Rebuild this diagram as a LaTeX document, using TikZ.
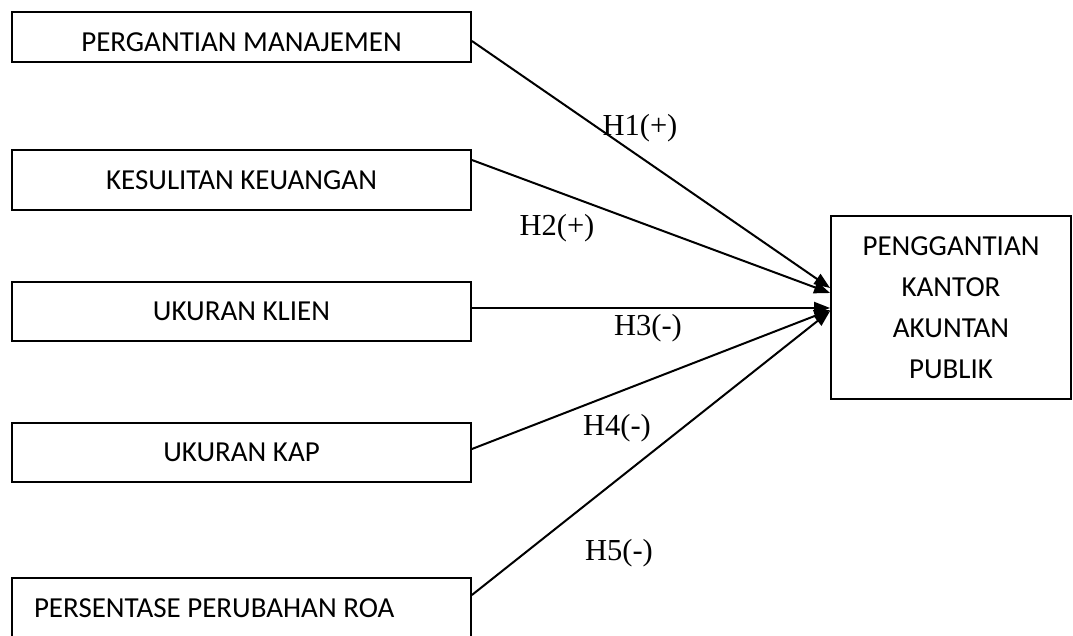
\documentclass[tikz,border=0pt]{standalone}
\usepackage{fontspec}
\setmainfont{Liberation Serif}
\newfontfamily\boxfont{Carlito}
\usetikzlibrary{arrows.meta}

\tikzset{
  varbox/.style={draw, line width=1.8pt, minimum width=459pt, inner sep=0pt,
    font=\boxfont\fontsize{29}{41}\selectfont},
  hyp/.style={font=\fontsize{30.5}{36}\selectfont, inner sep=0pt},
  link/.style={line width=2pt, -{Triangle[length=16pt,width=12pt]}}
}

\begin{document}
\begin{tikzpicture}[x=1pt,y=1pt,yscale=-1,xscale=1]
\useasboundingbox (0,0) rectangle (1073,635);

%Shape: Rectangle [id:mgt]
\node[varbox, minimum height=50pt] (b1) at (241.5,37) {\raisebox{-14pt}[0pt][0pt]{PERGANTIAN MANAJEMEN}};
%Shape: Rectangle [id:keu]
\node[varbox, minimum height=60pt] (b2) at (241.5,180) {KESULITAN KEUANGAN};
%Shape: Rectangle [id:klien]
\node[varbox, minimum height=59pt] (b3) at (241.5,311.5) {UKURAN KLIEN};
%Shape: Rectangle [id:kap]
\node[varbox, minimum height=59pt] (b4) at (241.5,452.5) {UKURAN KAP};
%Shape: Rectangle [id:roa]
\node[varbox, minimum height=60pt] (b5) at (241.5,608) {\makebox[415pt][l]{PERSENTASE PERUBAHAN ROA}};
%Shape: Rectangle [id:kantor]
\node[varbox, minimum width=240pt, minimum height=183pt, align=center] (tgt) at (951,307.5)
  {PENGGANTIAN\\KANTOR\\AKUNTAN\\PUBLIK};

%Straight Lines [id:h1..h5]
\coordinate (s1) at (b1.east |- 0,41);
\coordinate (s2) at (b2.east |- 0,160);
\coordinate (s3) at (b3.east |- 0,308);
\coordinate (s4) at (b4.east |- 0,449);
\coordinate (s5) at (b5.east |- 0,595);
\coordinate (e1) at (tgt.west |- 0,288);
\coordinate (e2) at (tgt.west |- 0,293);
\coordinate (e3) at (tgt.west |- 0,308);
\coordinate (e4) at (tgt.west |- 0,310);
\coordinate (e5) at (tgt.west |- 0,311);
\draw[link] (s1) -- (e1);
\draw[link] (s2) -- (e2);
\draw[link] (s3) -- (e3);
\draw[link] (s4) -- (e4);
\draw[link] (s5) -- (e5);

% Text Node
\node[hyp] (l1) at (640,128) {H1(+)};
% Text Node
\node[hyp] (l2) at (557,228) {H2(+)};
% Text Node
\node[hyp] (l3) at (648,328) {H3(-)};
% Text Node
\node[hyp] (l4) at (617,428) {H4(-)};
% Text Node
\node[hyp] (l5) at (619,553) {H5(-)};
\end{tikzpicture}
\end{document}
